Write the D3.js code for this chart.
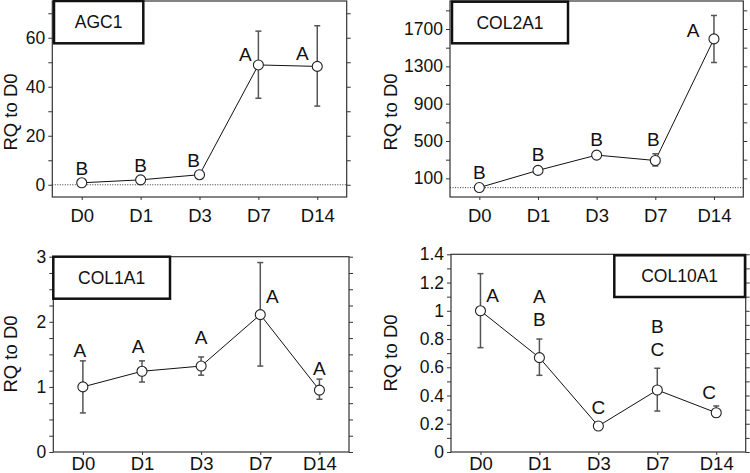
<!DOCTYPE html>
<html><head><meta charset="utf-8">
<script src="https://cdn.jsdelivr.net/npm/d3@7"></script>
<style>body{margin:0;background:#fff}svg{display:block;font-family:"Liberation Sans",Arial,sans-serif}</style>
</head><body><svg id="c" width="750" height="473"></svg>
<script>
const categories = ["D0","D1","D3","D7","D14"];

const agc1Mean = [0.8, 2.0, 4.1, 48.9, 48.3];
const agc1Lo   = [0.4, 1.8, 3.8, 35.3, 32.1];
const agc1Hi   = [1.2, 2.2, 4.4, 62.7, 64.9];
const agc1Letters = ["B","B","B","A","A"];
const agc1Ticks = [0,10,20,30,40,50,60,70];
const agc1Major = [0,20,40,60];

const col2Mean = [1, 185, 349, 291, 1594];
const col2Lo   = [1, 178, 342, 232, 1341];
const col2Hi   = [1, 192, 356, 363, 1845];
const col2Letters = ["B","B","B","B","A"];
const col2Ticks = [100,300,500,700,900,1100,1300,1500,1700,1900];
const col2Major = [100,500,900,1300,1700];

const col1Mean = [1.0, 1.24, 1.32, 2.11, 0.95];
const col1Lo   = [0.60, 1.075, 1.18, 1.32, 0.81];
const col1Hi   = [1.40, 1.40, 1.46, 2.91, 1.12];
const col1Letters = ["A","A","A","A","A"];
const col1Ticks = [0,0.25,0.5,0.75,1,1.25,1.5,1.75,2,2.25,2.5,2.75,3];
const col1Major = [0,1,2,3];

const col10Mean = [1.0, 0.668, 0.184, 0.439, 0.278];
const col10Lo   = [0.739, 0.543, 0.175, 0.29, 0.25];
const col10Hi   = [1.263, 0.80, 0.195, 0.593, 0.326];
const col10Letters = [["A"],["A","B"],["C"],["B","C"],["C"]];
const col10Ticks = [0,0.1,0.2,0.3,0.4,0.5,0.6,0.7,0.8,0.9,1,1.1,1.2,1.3,1.4];
const col10Major = [0,0.2,0.4,0.6,0.8,1,1.2,1.4];

const panels = [
  {name:"AGC1", mean:agc1Mean, lo:agc1Lo, hi:agc1Hi, letters:agc1Letters, ticks:agc1Ticks, major:agc1Major, domain:[-5,75], baseline:0,
   frame:{x0:52.3,x1:346.7,y0:1,y1:197}, box:{x0:54,x1:143.3,y0:1,y1:43.3}, xLabY:221.7, titleX:17, titleY:112,
   off:[[0,-7.5],[0,-8],[-6,-7.5],[-13,-4.3],[-15,-6]]},
  {name:"COL2A1", mean:col2Mean, lo:col2Lo, hi:col2Hi, letters:col2Letters, ticks:col2Ticks, major:col2Major, domain:[-100,2000], baseline:0,
   frame:{x0:450,x1:743.3,y0:1,y1:197}, box:{x0:452,x1:568,y0:1.7,y1:43.3}, xLabY:222, titleX:397, titleY:112,
   off:[[0,-9],[0,-9.4],[0,-8.6],[-2,-15],[-21,-1.6]]},
  {name:"COL1A1", mean:col1Mean, lo:col1Lo, hi:col1Hi, letters:col1Letters, ticks:col1Ticks, major:col1Major, domain:[0,3], baseline:null,
   frame:{x0:53.3,x1:349,y0:256.7,y1:452}, box:{x0:53.3,x1:170,y0:256.7,y1:298.7}, xLabY:470, titleX:17, titleY:354,
   off:[[-3,-30],[-4,-18],[0,-22],[12,-12],[0,-15]]},
  {name:"COL10A1", mean:col10Mean, lo:col10Lo, hi:col10Hi, letters:col10Letters, ticks:col10Ticks, major:col10Major, domain:[0,1.4], baseline:null,
   frame:{x0:451,x1:745.7,y0:254.3,y1:452}, box:{x0:614.3,x1:745,y0:255.3,y1:297}, xLabY:470, titleX:397, titleY:353,
   off:[[12,-9],[0,-32],[0,-12],[0,-34],[-7,-14]]}
];

const svg = d3.select("#c");
const frameCol = "#333";

panels.forEach(p => {
  const f = p.frame;
  const x = d3.scalePoint().domain(categories).range([f.x0, f.x1]).padding(0.5);
  const y = d3.scaleLinear().domain(p.domain).range([f.y1, f.y0]);
  const g = svg.append("g");

  if (p.baseline !== null) {
    g.append("line").attr("x1", f.x0).attr("x2", f.x1)
      .attr("y1", y(p.baseline)).attr("y2", y(p.baseline))
      .attr("stroke", "#333").attr("stroke-width", 1).attr("stroke-dasharray", "1,1.5");
  }

  const majorSet = new Set(p.major.map(v => +v.toFixed(4)));
  const left = g.append("g").attr("transform", `translate(${f.x0},0)`)
    .call(d3.axisLeft(y).tickValues(p.ticks).tickSize(4).tickSizeOuter(0)
      .tickFormat(d => majorSet.has(+d.toFixed(4)) ? d3.format("~g")(d) : ""));
  left.select(".domain").remove();
  left.selectAll("line").attr("stroke", frameCol);
  left.selectAll("text").attr("font-size", 17.5).attr("fill", "#111").attr("x", -7)
    .attr("font-family", "'Liberation Sans', Arial, sans-serif");

  const right = g.append("g").attr("transform", `translate(${f.x1},0)`)
    .call(d3.axisRight(y).tickValues(p.ticks).tickSize(4).tickFormat(""));
  right.select(".domain").remove();
  right.selectAll("line").attr("stroke", frameCol);

  const bottom = g.append("g").attr("transform", `translate(0,${f.y1})`)
    .call(d3.axisBottom(x).tickSize(3));
  bottom.select(".domain").remove();
  bottom.selectAll("line").attr("stroke", frameCol);
  bottom.selectAll("text").attr("font-size", 18.5).attr("fill", "#111")
    .attr("y", p.xLabY - f.y1).attr("dy", 0)
    .attr("font-family", "'Liberation Sans', Arial, sans-serif");

  g.append("rect").attr("x", f.x0).attr("y", f.y0)
    .attr("width", f.x1 - f.x0).attr("height", f.y1 - f.y0)
    .attr("fill", "none").attr("stroke", frameCol).attr("stroke-width", 1.2);

  g.append("text").attr("transform", `translate(${p.titleX},${p.titleY}) rotate(-90)`)
    .attr("text-anchor", "middle").attr("font-size", 18.5).attr("fill", "#111").text("RQ to D0");

  const data = categories.map((c, i) => ({c, m: p.mean[i], lo: p.lo[i], hi: p.hi[i], l: p.letters[i], off: p.off[i]}));

  g.append("path").datum(data)
    .attr("d", d3.line().x(d => x(d.c)).y(d => y(d.m)))
    .attr("fill", "none").attr("stroke", "#111").attr("stroke-width", 1);

  const eb = g.append("g").attr("stroke", "#555").attr("stroke-width", 1.5);
  data.forEach(d => {
    if (y(d.lo) - y(d.hi) < 1) return;
    eb.append("line").attr("x1", x(d.c)).attr("x2", x(d.c)).attr("y1", y(d.hi)).attr("y2", y(d.lo));
    [d.hi, d.lo].forEach(v => eb.append("line").attr("x1", x(d.c) - 3).attr("x2", x(d.c) + 3)
      .attr("y1", y(v)).attr("y2", y(v)));
  });

  g.selectAll("circle.pt").data(data).enter().append("circle")
    .attr("cx", d => x(d.c)).attr("cy", d => y(d.m)).attr("r", 5)
    .attr("fill", "#fff").attr("stroke", "#222").attr("stroke-width", 1.1);

  data.forEach(d => {
    const arr = Array.isArray(d.l) ? d.l : [d.l];
    const n = arr.length;
    arr.forEach((t, k) => {
      g.append("text").attr("x", x(d.c) + d.off[0])
        .attr("y", y(d.m) + d.off[1] - (n - 1 - k) * 23)
        .attr("text-anchor", "middle").attr("font-size", 19).attr("fill", "#111").text(t);
    });
  });

  const b = p.box;
  g.append("rect").attr("x", b.x0).attr("y", b.y0).attr("width", b.x1 - b.x0).attr("height", b.y1 - b.y0)
    .attr("fill", "#fff").attr("stroke", "#111").attr("stroke-width", 2.5);
  g.append("text").attr("x", (b.x0 + b.x1) / 2).attr("y", (b.y0 + b.y1) / 2)
    .attr("dy", "0.35em").attr("text-anchor", "middle").attr("font-size", 17.5).attr("fill", "#111").text(p.name);
});
</script></body></html>
